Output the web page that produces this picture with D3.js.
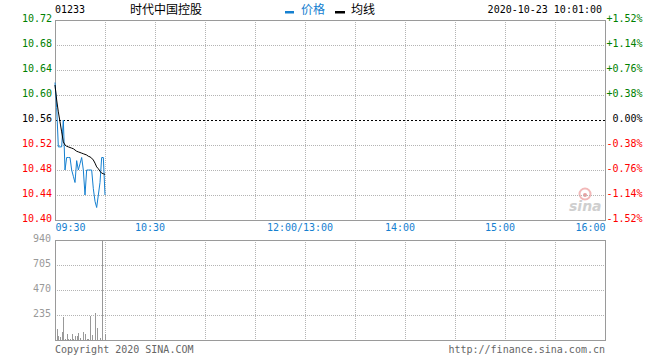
<!DOCTYPE html>
<html><head><meta charset="utf-8">
<script src="https://cdn.jsdelivr.net/npm/d3@7/dist/d3.min.js"></script>
<style>
body{margin:0;background:#fff;}
svg{display:block;}
.mono{font-family:"DejaVu Sans Mono","Liberation Mono",monospace;font-size:10px;}
.cjk{font-family:"Noto Sans CJK SC",sans-serif;font-size:12px;}
</style></head>
<body>
<svg id="chart" width="660" height="360"></svg>
<script>
// ---- data ----
const stockCode = "01233";
const stockName = "时代中国控股";
const dateTime = "2020-10-23 10:01:00";
const prevClose = 10.56;
const priceTicks = [10.72, 10.68, 10.64, 10.60, 10.56, 10.52, 10.48, 10.44, 10.40];
const pctLabels = ["+1.52%", "+1.14%", "+0.76%", "+0.38%", "0.00%", "-0.38%", "-0.76%", "-1.14%", "-1.52%"];
const timeTickMinutes = [0, 60, 150, 210, 270, 330];
const timeTickLabels = ["09:30", "10:30", "12:00/13:00", "14:00", "15:00", "16:00"];
const volTicks = [940, 705, 470, 235];
// minute index from 09:30
const prices = [10.62, 10.58, 10.517, 10.517, 10.517, 10.56, 10.48, 10.50, 10.50, 10.50,
  10.48, 10.47, 10.46, 10.495, 10.48, 10.49, 10.50, 10.48, 10.44, 10.48,
  10.48, 10.48, 10.48, 10.45, 10.43, 10.42, 10.44, 10.46, 10.50, 10.50, 10.44];
const avgPrices = [10.616, 10.592, 10.573, 10.557, 10.541, 10.525, 10.52, 10.518, 10.517, 10.516,
  10.515, 10.514, 10.512, 10.510, 10.509, 10.508, 10.507, 10.506, 10.505, 10.504,
  10.502, 10.501, 10.499, 10.496, 10.491, 10.485, 10.482, 10.478, 10.475, 10.474, 10.473];
const volumes = [0, 103, 38, 28, 72, 219, 10, 56, 10, 10,
  56, 10, 38, 38, 66, 20, 0, 75, 56, 10,
  10, 225, 47, 0, 254, 110, 0, 20, 940, 0, 56];

// ---- layout ----
const L = 55, R = 605, PT = 20, PB = 220, VT = 240, VB = 340;
const svg = d3.select("#chart");
const x = d3.scaleLinear().domain([0, 330]).range([L, R]);
const y = d3.scaleLinear().domain([10.40, 10.72]).range([PB, PT]);
const yv = d3.scaleLinear().domain([0, 940]).range([VB, VT]);
const gridColor = "#b4b4b4", frameColor = "#9a9a9a";
const blue = "#1580d0";
const px = v => Math.round(v) + 0.5;

// header
svg.append("text").attr("class", "mono").attr("x", 55).attr("y", 13).attr("fill", "#000").text(stockCode);
svg.append("text").attr("class", "cjk").attr("x", 130).attr("y", 14).attr("fill", "#000").text(stockName);
svg.append("rect").attr("x", 285).attr("y", 11).attr("width", 9).attr("height", 2.5).attr("fill", blue);
svg.append("text").attr("class", "cjk").attr("x", 301).attr("y", 14).attr("fill", blue).text("价格");
svg.append("rect").attr("x", 335).attr("y", 11).attr("width", 10).attr("height", 2.5).attr("fill", "#000");
svg.append("text").attr("class", "cjk").attr("x", 351).attr("y", 14).attr("fill", "#000").text("均线");
svg.append("text").attr("class", "mono").attr("x", 602).attr("y", 13).attr("text-anchor", "end").attr("fill", "#000").text(dateTime);

// watermark
const wm = svg.append("g");
wm.append("circle").attr("cx", 585).attr("cy", 194).attr("r", 5.5).attr("fill", "none").attr("stroke", "#f2b8b8").attr("stroke-width", 2);
wm.append("circle").attr("cx", 585).attr("cy", 195).attr("r", 2).attr("fill", "#e8a0a0");
wm.append("text").attr("x", 569).attr("y", 211).attr("font-family", "DejaVu Sans, sans-serif").attr("font-style", "italic").attr("font-weight", "bold").attr("font-size", 14).attr("fill", "#cfcfcf").text("sina");

// gridlines
const vGridMinutes = d3.range(30, 330, 30);
const grid = svg.append("g").attr("stroke", gridColor).attr("stroke-dasharray", "1,1").attr("shape-rendering", "crispEdges");
vGridMinutes.forEach(m => {
  grid.append("line").attr("x1", px(x(m))).attr("x2", px(x(m))).attr("y1", PT).attr("y2", PB);
  grid.append("line").attr("x1", px(x(m))).attr("x2", px(x(m))).attr("y1", VT).attr("y2", VB);
});
priceTicks.filter(p => p !== prevClose && p !== 10.72 && p !== 10.40).forEach(p => {
  grid.append("line").attr("x1", L).attr("x2", R).attr("y1", px(y(p))).attr("y2", px(y(p)));
});
volTicks.filter(v => v !== 940).forEach(v => {
  grid.append("line").attr("x1", L).attr("x2", R).attr("y1", px(yv(v))).attr("y2", px(yv(v)));
});
// prev close dashed
svg.append("line").attr("x1", L).attr("x2", R).attr("y1", px(y(prevClose))).attr("y2", px(y(prevClose)))
  .attr("stroke", "#000").attr("stroke-dasharray", "2,2").attr("shape-rendering", "crispEdges");

// frames
svg.append("rect").attr("x", L + 0.5).attr("y", PT + 0.5).attr("width", R - L).attr("height", PB - PT)
  .attr("fill", "none").attr("stroke", frameColor).attr("shape-rendering", "crispEdges");
svg.append("rect").attr("x", L + 0.5).attr("y", VT + 0.5).attr("width", R - L).attr("height", VB - VT)
  .attr("fill", "none").attr("stroke", frameColor).attr("shape-rendering", "crispEdges");

// volume bars
svg.append("g").selectAll("line").data(volumes).join("line")
  .attr("x1", (d, i) => px(x(i))).attr("x2", (d, i) => px(x(i)))
  .attr("y1", d => yv(d)).attr("y2", VB)
  .attr("stroke", "#999").attr("stroke-width", 1).attr("shape-rendering", "crispEdges");

// price and average lines
const line = d3.line().x((d, i) => x(i)).y(d => y(d));
svg.append("path").datum(prices).attr("d", line).attr("fill", "none").attr("stroke", blue).attr("stroke-width", 1);
svg.append("path").datum(avgPrices).attr("d", line).attr("fill", "none").attr("stroke", "#000").attr("stroke-width", 1);

// axes
const colorFor = p => p > prevClose + 1e-9 ? "#008000" : (p < prevClose - 1e-9 ? "#ff0000" : "#000");
const axL = svg.append("g").attr("transform", `translate(${L},0)`)
  .call(d3.axisLeft(y).tickValues(priceTicks).tickSize(0).tickPadding(3).tickFormat(d3.format(".2f")));
axL.select(".domain").remove();
axL.selectAll("text").attr("class", "mono").attr("font-size", null).attr("font-family", null)
  .attr("dy", "0.1em").attr("fill", d => colorFor(d));

const axR = svg.append("g").attr("transform", `translate(${R},0)`)
  .call(d3.axisRight(y).tickValues(priceTicks).tickSize(0).tickFormat((d, i) => pctLabels[i]));
axR.select(".domain").remove();
axR.selectAll("text").attr("class", "mono").attr("font-size", null).attr("font-family", null)
  .attr("text-anchor", "end").attr("x", 37.5).attr("dy", "0.1em").attr("fill", d => colorFor(d));

const axB = svg.append("g").attr("transform", `translate(0,${PB})`)
  .call(d3.axisBottom(x).tickValues(timeTickMinutes).tickSize(0).tickPadding(4).tickFormat((d, i) => timeTickLabels[i]));
axB.select(".domain").remove();
axB.selectAll("text").attr("class", "mono").attr("font-size", null).attr("font-family", null).attr("fill", blue)
  .attr("text-anchor", (d, i) => i === 0 ? "start" : (i === timeTickMinutes.length - 1 ? "end" : "middle"))
  .attr("dx", (d, i) => (i === 0 || i === timeTickMinutes.length - 1) ? 0 : -5.5);

const axV = svg.append("g").attr("transform", `translate(${L},0)`)
  .call(d3.axisLeft(yv).tickValues(volTicks).tickSize(0).tickPadding(4).tickFormat(d3.format("d")));
axV.select(".domain").remove();
axV.selectAll("text").attr("class", "mono").attr("font-size", null).attr("font-family", null)
  .attr("dy", "0.1em").attr("fill", "#999");

// footer
svg.append("text").attr("class", "mono").attr("x", 55).attr("y", 353).attr("fill", "#666").text("Copyright 2020 SINA.COM");
svg.append("text").attr("class", "mono").attr("x", 605).attr("y", 353).attr("text-anchor", "end").attr("fill", "#666").text("http://finance.sina.com.cn");
</script>
</body></html>
